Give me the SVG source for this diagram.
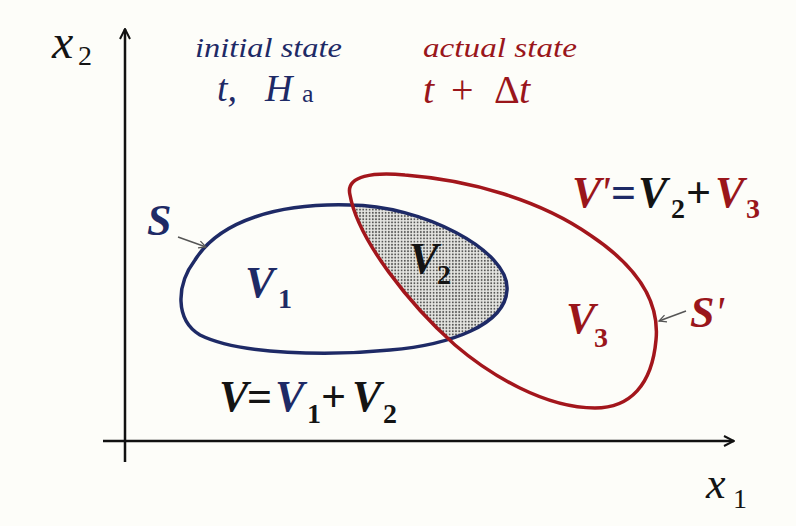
<svg xmlns="http://www.w3.org/2000/svg" width="796" height="526" viewBox="0 0 796 526" font-family="Liberation Serif">
<defs>
<marker id="axh" viewBox="0 0 10 10" refX="9" refY="5" markerWidth="5" markerHeight="5" markerUnits="strokeWidth" orient="auto">
<path d="M1,1 L9,5 L1,9" fill="none" stroke="#111" stroke-width="1.6"/>
</marker>
<marker id="ph" viewBox="0 0 10 10" refX="9" refY="5" markerWidth="6" markerHeight="6" markerUnits="strokeWidth" orient="auto">
<path d="M1,1 L9,5 L1,9" fill="none" stroke="#555" stroke-width="1.4"/>
</marker>
<pattern id="dots" width="3.2" height="3.2" patternUnits="userSpaceOnUse">
<rect width="3.2" height="3.2" fill="#e6e6e2"/>
<circle cx="1.6" cy="1.6" r="0.95" fill="#555"/>
</pattern>
<path id="blueP" d="M350,205 C420,205 510,250 507,290 C505,325 450,345 390,350 C330,356 240,355 200,335 C175,320 176,285 195,260 C220,220 280,203 350,205 Z"/>
<path id="redP" d="M350,195 C345,175 375,172 405,175 C470,180 540,200 590,235 C635,265 660,300 656,340 C652,385 630,408 595,408 C545,408 490,375 455,345 C410,305 358,240 350,195 Z"/>
<clipPath id="redClip"><use href="#redP"/></clipPath>
</defs>
<rect width="796" height="526" fill="#fdfdf9"/>

<g id="axes">
<line stroke="#111" stroke-width="2.5" x1="125" y1="462" x2="125" y2="29" marker-end="url(#axh)"/>
<line stroke="#111" stroke-width="2.5" x1="103" y1="441" x2="734" y2="441" marker-end="url(#axh)"/>
<text font-family="Liberation Serif" font-style="italic" fill="#141414" font-size="48" x="52" y="58">x<tspan x="78" y="65" font-size="28" font-style="normal">2</tspan></text>
<text font-family="Liberation Serif" font-style="italic" fill="#141414" font-size="44" x="706" y="498">x<tspan x="733" y="508" font-size="28" font-style="normal">1</tspan></text>
</g>

<g id="initial-state">
<text font-family="Liberation Serif" font-style="italic" fill="#1e2a66" font-size="27" x="195" y="57" textLength="147" lengthAdjust="spacingAndGlyphs">initial state</text>
<text font-family="Liberation Serif" font-style="italic" fill="#1e2a66" font-size="38" x="217" y="101">t,<tspan x="265">H</tspan><tspan x="302" y="102" font-size="26" font-style="normal">a</tspan></text>
</g>

<g id="actual-state">
<text font-family="Liberation Serif" font-style="italic" fill="#9a161b" font-size="27" x="423" y="57" textLength="154" lengthAdjust="spacingAndGlyphs">actual state</text>
<text font-family="Liberation Serif" font-style="italic" fill="#9a161b" font-size="40" x="423" y="103">t<tspan x="451" font-style="normal">+</tspan><tspan x="494" font-style="normal">&#916;</tspan><tspan x="519">t</tspan></text>
</g>

<g id="region-V2">
<use href="#blueP" fill="url(#dots)" clip-path="url(#redClip)"/>
</g>

<g id="surface-S">
<use href="#blueP" fill="none" stroke="#1e2a66" stroke-width="3.5"/>
<text font-family="Liberation Serif" font-style="italic" font-weight="bold" fill="#1e2a66" font-size="44" x="147" y="235">S</text>
<text font-family="Liberation Serif" font-style="italic" font-weight="bold" fill="#1e2a66" font-size="44" x="245" y="297">V<tspan x="278" y="308" font-size="28" font-style="normal">1</tspan></text>
</g>

<g id="surface-S-prime">
<use href="#redP" fill="none" stroke="#a3161c" stroke-width="3.5"/>
<text font-family="Liberation Serif" font-style="italic" font-weight="bold" fill="#9a161b" font-size="44" x="690" y="327">S<tspan font-weight="normal">'</tspan></text>
<text font-family="Liberation Serif" font-style="italic" font-weight="bold" fill="#9a161b" font-size="44" x="566" y="333">V<tspan x="594" y="347" font-size="28" font-style="normal">3</tspan></text>
</g>

<g id="label-V2">
<text font-family="Liberation Serif" font-style="italic" font-weight="bold" fill="#141414" font-size="44" x="409" y="273">V<tspan x="437" y="284" font-size="28" font-style="normal">2</tspan></text>
</g>

<g id="eq-Vprime">
<text font-family="Liberation Serif" font-style="italic" font-weight="bold" font-size="44" x="572" y="207"><tspan fill="#9a161b">V</tspan><tspan fill="#9a161b" x="600" font-weight="normal">'</tspan><tspan fill="#1e2a66" x="611" font-style="normal">=</tspan><tspan fill="#141414" x="638">V</tspan><tspan fill="#141414" x="671" y="218" font-size="28" font-style="normal">2</tspan><tspan fill="#141414" x="686" y="207" font-style="normal">+</tspan><tspan fill="#9a161b" x="715">V</tspan><tspan fill="#9a161b" x="746" y="218" font-size="28" font-style="normal">3</tspan></text>
</g>

<g id="eq-V">
<text font-family="Liberation Serif" font-style="italic" font-weight="bold" font-size="44" x="219" y="411"><tspan fill="#141414">V</tspan><tspan fill="#141414" x="247" font-style="normal">=</tspan><tspan fill="#1e2a66" x="275">V</tspan><tspan fill="#141414" x="307" y="423" font-size="28" font-style="normal">1</tspan><tspan fill="#141414" x="321" y="411" font-style="normal">+</tspan><tspan fill="#141414" x="352">V</tspan><tspan fill="#141414" x="383" y="423" font-size="28" font-style="normal">2</tspan></text>
</g>

<g id="connectors">
<line stroke="#555" stroke-width="1.5" x1="178" y1="237" x2="206" y2="247" marker-end="url(#ph)"/>
<line stroke="#555" stroke-width="1.5" x1="686" y1="311" x2="659" y2="321" marker-end="url(#ph)"/>
</g>
</svg>
